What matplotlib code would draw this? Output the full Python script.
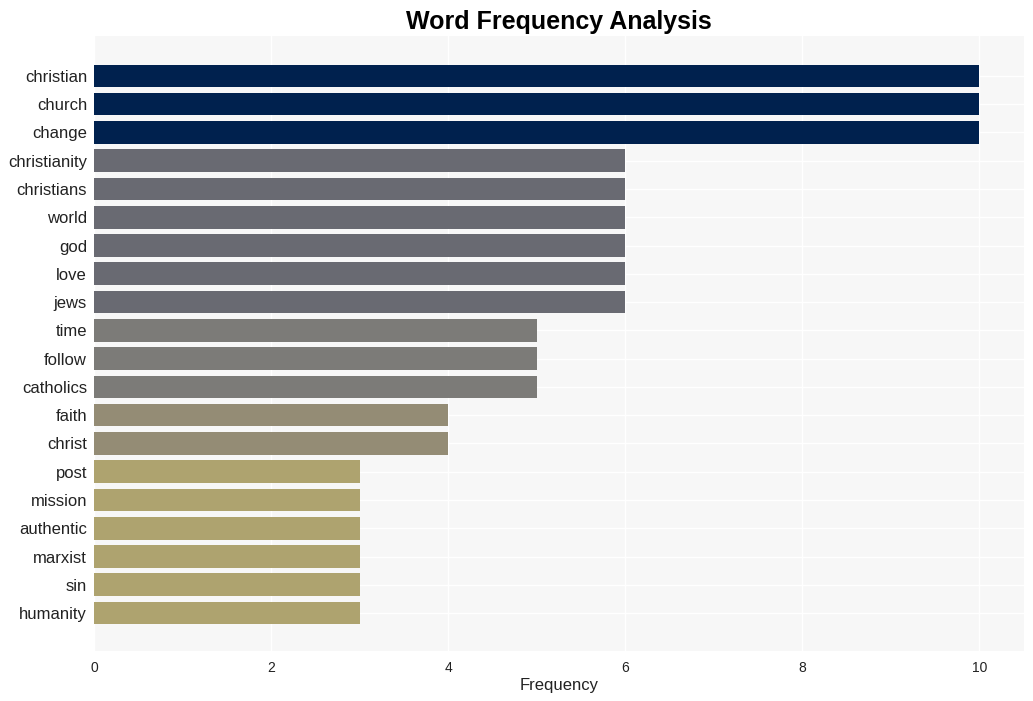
import matplotlib.pyplot as plt

plt.rcParams['font.family'] = ['Liberation Sans', 'DejaVu Sans']

words = ["christian", "church", "change", "christianity", "christians", "world",
         "god", "love", "jews", "time", "follow", "catholics", "faith", "christ",
         "post", "mission", "authentic", "marxist", "sin", "humanity"]
freqs = [10, 10, 10, 6, 6, 6, 6, 6, 6, 5, 5, 5, 4, 4, 3, 3, 3, 3, 3, 3]
color_by_freq = {10: "#00214e", 6: "#696a72", 5: "#7c7b78", 4: "#948c75", 3: "#aea36f"}

fig = plt.figure(figsize=(10.33, 7.01), dpi=100)
ax = fig.add_axes([0.091, 0.071, 0.9, 0.878])
ax.set_facecolor("#f7f7f7")

ypos = list(range(len(words)))
ax.barh(ypos, freqs, height=0.8, color=[color_by_freq[f] for f in freqs], zorder=2)
ax.set_yticks(ypos)
ax.set_yticklabels(words, fontsize=12, color="#222222")
ax.set_ylim(20.35, -1.42)
ax.set_xlim(0, 10.5)
ax.set_xticks([0, 2, 4, 6, 8, 10])
ax.tick_params(axis="x", labelsize=10, length=0, pad=7, colors="#222222")
ax.tick_params(axis="y", length=0, pad=5)
ax.grid(True, color="white", linewidth=1, zorder=0)
ax.set_axisbelow(True)
for s in ax.spines.values():
    s.set_visible(False)

ax.set_xlabel("Frequency", fontsize=12, color="#222222", labelpad=2)
ax.set_title("Word Frequency Analysis", fontsize=18, fontweight="bold", pad=5)

fig.savefig("out.png")
